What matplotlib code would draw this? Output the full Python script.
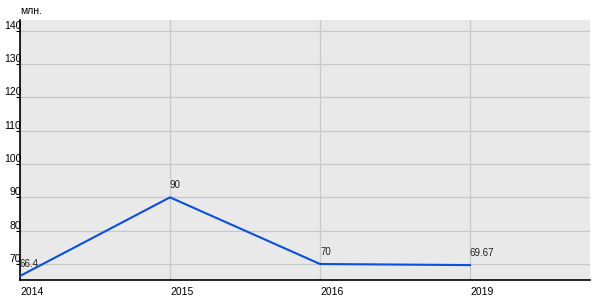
import matplotlib
matplotlib.use('Agg')
import matplotlib.pyplot as plt

# данные
years = ['2014', '2015', '2016', '2019']
values = [66.4, 90, 70, 69.67]
labels = ['66.4', '90', '70', '69.67']
yticks = [70, 80, 90, 100, 110, 120, 130, 140]

plt.rcParams['font.family'] = ['Liberation Sans', 'DejaVu Sans']
fig = plt.figure(figsize=(6, 3), dpi=100)
ax = fig.add_axes([20/600, 20/300, 570/600, 260/300])
ax.set_facecolor('#e9e9e9')

x = list(range(len(years)))
ax.plot(x, values, color='#0a4fe0', lw=1.5, zorder=3)
for xi, v, t in zip(x, values, labels):
    ax.annotate(t, (xi, v), xytext=(0, 5), textcoords='offset points',
                fontsize=7, ha='left', va='bottom', color='#222222')

ax.set_xlim(0, 3.8)
ax.set_ylim(65.2, 143.2)
ax.set_xticks(x)
ax.set_xticklabels(years)
ax.set_yticks(yticks)
ax.grid(True, color='#c8c8c8', lw=0.9)
ax.set_axisbelow(True)

for s in ['top', 'right']:
    ax.spines[s].set_visible(False)
ax.spines['left'].set_color('black')
ax.spines['bottom'].set_color('black')
ax.spines['left'].set_linewidth(1.2)
ax.spines['bottom'].set_linewidth(1.2)

ax.tick_params(axis='x', length=0, pad=5, labelsize=7.5)
ax.tick_params(axis='y', length=3, width=0.8, pad=-4, labelsize=7.5)
for lbl in ax.get_xticklabels():
    lbl.set_horizontalalignment('left')
for lbl in ax.get_yticklabels():
    lbl.set_verticalalignment('bottom')

fig.text(20/600, 1 - 11/300, 'млн.', fontsize=7.5, ha='left', va='center')

fig.savefig('out.png', dpi=100)
